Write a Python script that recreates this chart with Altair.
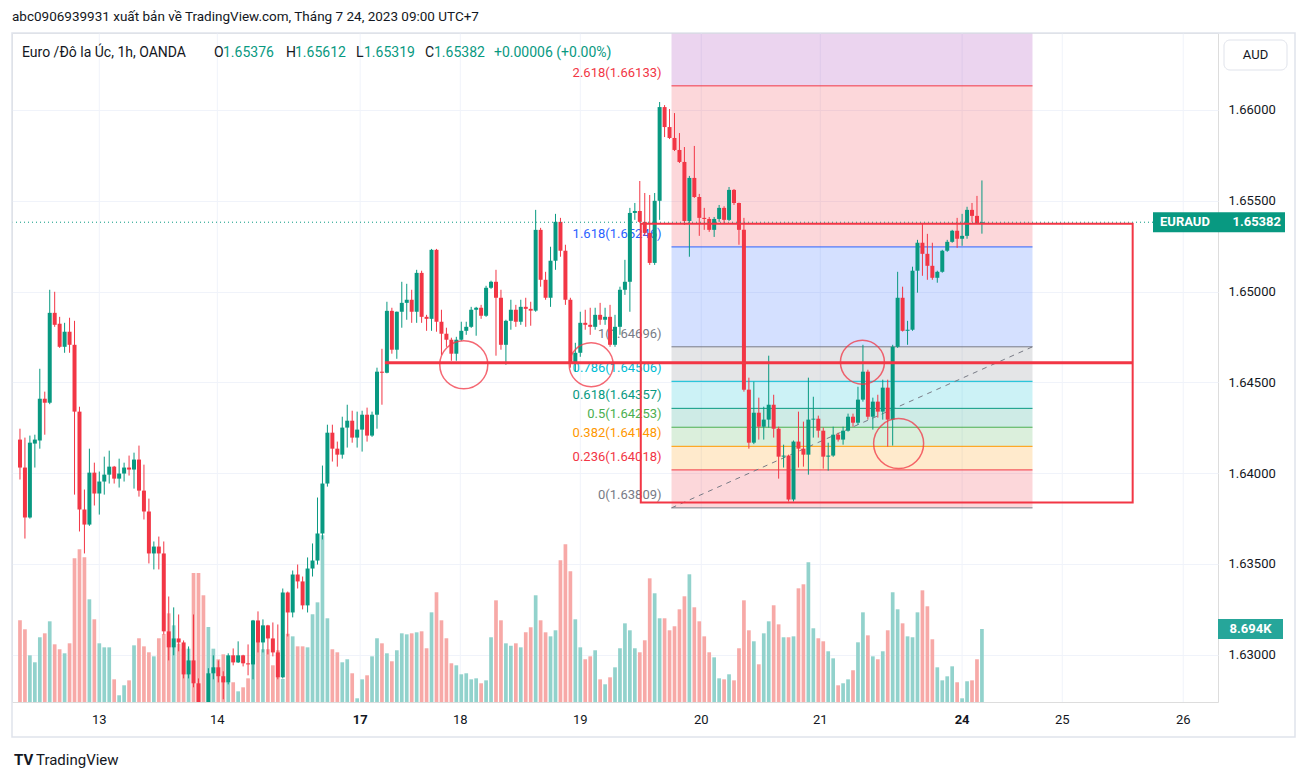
import altair as alt
import pandas as pd

# ---------------- data (EUR/AUD 1h, OANDA) ----------------
opens = [
    1.64185, 1.64031, 1.63756, 1.64163, 1.64180, 1.64410, 1.64388, 1.64883, 1.64823, 1.64696,
    1.64779, 1.64707, 1.64339, 1.63800, 1.63717, 1.64003, 1.63888, 1.63954, 1.63992, 1.64036,
    1.63970, 1.63998, 1.64031, 1.64020, 1.64075, 1.63904, 1.63789, 1.63558, 1.63596, 1.63558,
    1.63129, 1.63041, 1.63090, 1.63068, 1.62892, 1.62969, 1.62843, 1.62733, 1.62712, 1.62898,
    1.62931, 1.62882, 1.62848, 1.62997, 1.62958, 1.62997, 1.62953, 1.62947, 1.63189, 1.63068,
    1.63162, 1.63090, 1.63013, 1.62876, 1.63343, 1.63233, 1.63442, 1.63404, 1.63272, 1.63475,
    1.63519, 1.63668, 1.63943, 1.64223, 1.64135, 1.64102, 1.64251, 1.64289, 1.64196, 1.64240,
    1.64322, 1.64207, 1.64322, 1.64559, 1.64553, 1.64894, 1.64680, 1.64889, 1.64938, 1.64955,
    1.64889, 1.65103, 1.64861, 1.64850, 1.65230, 1.64834, 1.64768, 1.64735, 1.64658, 1.64735,
    1.64784, 1.64806, 1.64900, 1.64911, 1.64867, 1.65021, 1.65054, 1.64966, 1.64707, 1.64839,
    1.64900, 1.64834, 1.64916, 1.64905, 1.64895, 1.65340, 1.65065, 1.64966, 1.65170, 1.65384,
    1.65225, 1.64955, 1.64608, 1.64663, 1.64828, 1.64817, 1.64806, 1.64872, 1.64845, 1.64861,
    1.64707, 1.64806, 1.65010, 1.65054, 1.65433, 1.65444, 1.65384, 1.65323, 1.65158, 1.65500,
    1.66016, 1.65906, 1.65846, 1.65780, 1.65714, 1.65389, 1.65626, 1.65521, 1.65406, 1.65400,
    1.65340, 1.65400, 1.65461, 1.65395, 1.65560, 1.65488, 1.65340, 1.64460, 1.64168, 1.64333,
    1.64256, 1.64295, 1.64377, 1.64245, 1.64091, 1.64097, 1.63855, 1.64174, 1.64135, 1.64102,
    1.64295, 1.64300, 1.64234, 1.64091, 1.64097, 1.64212, 1.64185, 1.64234, 1.64311, 1.64278,
    1.64405, 1.64559, 1.64311, 1.64394, 1.64339, 1.64471, 1.64295, 1.64696, 1.64966, 1.64784,
    1.64790, 1.65115, 1.65269, 1.65208, 1.65142, 1.65076, 1.65109, 1.65225, 1.65274, 1.65335,
    1.65291, 1.65307, 1.65450, 1.65417, 1.65376,
]
highs = [
    1.64245, 1.64196, 1.64207, 1.64212, 1.64575, 1.64449, 1.65010, 1.64999, 1.64861, 1.64828,
    1.64856, 1.64839, 1.64366, 1.63910, 1.64135, 1.64058, 1.64009, 1.64091, 1.64124, 1.64040,
    1.64080, 1.64058, 1.64097, 1.64113, 1.64152, 1.64047, 1.63860, 1.63624, 1.63651, 1.63624,
    1.63321, 1.63261, 1.63222, 1.63079, 1.63046, 1.63222, 1.62870, 1.62738, 1.62926, 1.62997,
    1.62969, 1.62909, 1.63008, 1.63035, 1.63074, 1.63000, 1.63057, 1.63192, 1.63239, 1.63195,
    1.63165, 1.63178, 1.63167, 1.63365, 1.63348, 1.63464, 1.63497, 1.63431, 1.63536, 1.63613,
    1.63866, 1.64042, 1.64267, 1.64267, 1.64174, 1.64311, 1.64377, 1.64344, 1.64339, 1.64344,
    1.64361, 1.64339, 1.64581, 1.64685, 1.64944, 1.64911, 1.64890, 1.65054, 1.65043, 1.65010,
    1.65120, 1.65115, 1.64872, 1.65235, 1.65235, 1.64900, 1.64801, 1.64746, 1.64751, 1.64834,
    1.64834, 1.64916, 1.64916, 1.64927, 1.65032, 1.65060, 1.65120, 1.65010, 1.64845, 1.64955,
    1.64927, 1.64955, 1.64966, 1.64944, 1.65450, 1.65351, 1.65109, 1.65247, 1.65428, 1.65406,
    1.65258, 1.64966, 1.64718, 1.64889, 1.64900, 1.64911, 1.64911, 1.64938, 1.64911, 1.64927,
    1.64872, 1.65027, 1.65175, 1.65461, 1.65488, 1.65609, 1.65543, 1.65532, 1.65543, 1.66044,
    1.66027, 1.66005, 1.65983, 1.65873, 1.65796, 1.65637, 1.65802, 1.65538, 1.65461, 1.65411,
    1.65411, 1.65477, 1.65470, 1.65576, 1.65565, 1.65490, 1.65406, 1.64526, 1.64504, 1.64416,
    1.64366, 1.64647, 1.64432, 1.64256, 1.64157, 1.64102, 1.64180, 1.64339, 1.64284, 1.64526,
    1.64421, 1.64317, 1.64251, 1.64168, 1.64256, 1.64223, 1.64256, 1.64328, 1.64328, 1.64476,
    1.64707, 1.64570, 1.64416, 1.64432, 1.64515, 1.64515, 1.64707, 1.65109, 1.65027, 1.64839,
    1.65137, 1.65285, 1.65378, 1.65318, 1.65269, 1.65115, 1.65230, 1.65285, 1.65340, 1.65406,
    1.65428, 1.65467, 1.65488, 1.65527, 1.65612,
]
lows = [
    1.63965, 1.63640, 1.63750, 1.64031, 1.64135, 1.64212, 1.64380, 1.64806, 1.64690, 1.64663,
    1.64663, 1.63882, 1.63679, 1.63558, 1.63710, 1.63822, 1.63772, 1.63882, 1.63943, 1.63943,
    1.63921, 1.63954, 1.63987, 1.63915, 1.63871, 1.63745, 1.63503, 1.63470, 1.63470, 1.63112,
    1.62969, 1.62997, 1.63019, 1.62870, 1.62870, 1.62821, 1.62722, 1.62680, 1.62705, 1.62865,
    1.62848, 1.62755, 1.62837, 1.62942, 1.62955, 1.62936, 1.62887, 1.62865, 1.63013, 1.63013,
    1.63002, 1.62991, 1.62865, 1.62870, 1.63101, 1.63206, 1.63365, 1.63250, 1.63233, 1.63431,
    1.63497, 1.63635, 1.63926, 1.64064, 1.64036, 1.64080, 1.64141, 1.64168, 1.64141, 1.64119,
    1.64174, 1.64200, 1.64245, 1.64377, 1.64550, 1.64658, 1.64630, 1.64801, 1.64845, 1.64828,
    1.64828, 1.64828, 1.64784, 1.64784, 1.64779, 1.64652, 1.64696, 1.64619, 1.64619, 1.64729,
    1.64762, 1.64800, 1.64757, 1.64850, 1.64861, 1.65015, 1.64647, 1.64680, 1.64597, 1.64790,
    1.64806, 1.64817, 1.64806, 1.64812, 1.64889, 1.65027, 1.64955, 1.64916, 1.65120, 1.65192,
    1.64927, 1.64581, 1.64559, 1.64641, 1.64790, 1.64762, 1.64790, 1.64817, 1.64817, 1.64696,
    1.64696, 1.64762, 1.64982, 1.64889, 1.65395, 1.65378, 1.65307, 1.65147, 1.65147, 1.65395,
    1.65851, 1.65840, 1.65774, 1.65708, 1.65367, 1.65192, 1.65516, 1.65307, 1.65340, 1.65329,
    1.65301, 1.65384, 1.65373, 1.65389, 1.65477, 1.65258, 1.64449, 1.64135, 1.64160, 1.64185,
    1.64185, 1.64251, 1.64196, 1.63970, 1.64031, 1.63844, 1.63844, 1.64031, 1.64036, 1.63992,
    1.64196, 1.64196, 1.64025, 1.64014, 1.64090, 1.64174, 1.64157, 1.64229, 1.64256, 1.64267,
    1.64394, 1.64295, 1.64240, 1.64306, 1.64295, 1.64146, 1.64152, 1.64690, 1.64780, 1.64707,
    1.64784, 1.64994, 1.65087, 1.65065, 1.65065, 1.65049, 1.65104, 1.65219, 1.65269, 1.65241,
    1.65252, 1.65291, 1.65384, 1.65373, 1.65319,
]
closes = [
    1.64031, 1.63756, 1.64168, 1.64185, 1.64410, 1.64388, 1.64883, 1.64817, 1.64696, 1.64779,
    1.64707, 1.64339, 1.63800, 1.63717, 1.64003, 1.63888, 1.63954, 1.63992, 1.64036, 1.63970,
    1.63998, 1.64031, 1.64020, 1.64075, 1.63904, 1.63789, 1.63558, 1.63596, 1.63558, 1.63129,
    1.63041, 1.63090, 1.63068, 1.62892, 1.62969, 1.62843, 1.62733, 1.62712, 1.62898, 1.62931,
    1.62882, 1.62848, 1.62997, 1.62958, 1.62997, 1.62953, 1.62947, 1.63189, 1.63068, 1.63162,
    1.63090, 1.63013, 1.62876, 1.63343, 1.63233, 1.63442, 1.63404, 1.63272, 1.63475, 1.63519,
    1.63668, 1.63943, 1.64223, 1.64135, 1.64102, 1.64251, 1.64289, 1.64196, 1.64240, 1.64322,
    1.64207, 1.64322, 1.64559, 1.64553, 1.64894, 1.64680, 1.64889, 1.64938, 1.64955, 1.64889,
    1.65103, 1.64861, 1.64850, 1.65230, 1.64834, 1.64768, 1.64735, 1.64658, 1.64735, 1.64784,
    1.64806, 1.64900, 1.64911, 1.64867, 1.65021, 1.65054, 1.64966, 1.64707, 1.64839, 1.64900,
    1.64834, 1.64916, 1.64905, 1.64895, 1.65340, 1.65065, 1.64966, 1.65170, 1.65384, 1.65225,
    1.64955, 1.64608, 1.64663, 1.64828, 1.64817, 1.64806, 1.64872, 1.64845, 1.64861, 1.64707,
    1.64806, 1.65010, 1.65054, 1.65433, 1.65444, 1.65384, 1.65323, 1.65158, 1.65500, 1.66016,
    1.65906, 1.65846, 1.65780, 1.65714, 1.65389, 1.65626, 1.65521, 1.65406, 1.65400, 1.65340,
    1.65400, 1.65461, 1.65395, 1.65560, 1.65488, 1.65340, 1.64460, 1.64168, 1.64333, 1.64256,
    1.64295, 1.64377, 1.64245, 1.64091, 1.64097, 1.63855, 1.64174, 1.64135, 1.64102, 1.64295,
    1.64300, 1.64234, 1.64091, 1.64097, 1.64212, 1.64185, 1.64234, 1.64311, 1.64278, 1.64405,
    1.64559, 1.64311, 1.64394, 1.64339, 1.64471, 1.64295, 1.64696, 1.64966, 1.64784, 1.64790,
    1.65115, 1.65269, 1.65208, 1.65142, 1.65076, 1.65109, 1.65225, 1.65274, 1.65335, 1.65291,
    1.65307, 1.65450, 1.65417, 1.65376, 1.65382,
]
volume_k = [
    9.73, 8.66, 5.56, 4.73, 7.71, 8.18, 9.61, 6.87, 6.28, 5.80,
    6.99, 17.11, 18.19, 17.23, 12.23, 9.85, 6.99, 6.51, 6.51, 2.70,
    0.80, 1.99, 2.58, 6.75, 7.59, 6.63, 5.92, 5.44, 7.59, 8.10,
    10.56, 9.13, 6.94, 6.35, 6.35, 15.36, 15.36, 12.71, 8.93, 6.35,
    5.09, 5.68, 2.35, 2.35, 1.27, 1.75, 2.82, 5.75, 8.13, 6.28,
    6.28, 4.37, 6.16, 2.74, 8.13, 7.82, 6.63, 6.63, 6.51, 10.45,
    11.87, 19.85, 9.97, 6.28, 5.92, 4.73, 5.09, 3.42, 0.44, 2.70,
    3.18, 5.44, 7.59, 6.99, 5.80, 4.85, 6.16, 8.18, 8.06, 8.18,
    8.30, 8.42, 6.40, 10.68, 13.07, 9.73, 7.59, 4.61, 4.37, 3.30,
    3.42, 2.70, 2.82, 2.23, 2.58, 7.71, 12.11, 9.73, 6.99, 6.70,
    6.99, 6.51, 8.30, 8.90, 12.71, 9.73, 8.30, 7.82, 8.54, 16.88,
    18.78, 15.57, 9.85, 6.51, 5.09, 5.44, 6.16, 2.70, 2.11, 2.94,
    4.13, 6.40, 9.37, 8.54, 6.40, 5.92, 7.35, 14.73, 12.95, 9.97,
    9.97, 8.54, 9.02, 11.04, 12.59, 15.21, 11.28, 9.61, 7.82, 5.92,
    5.32, 2.82, 2.70, 3.30, 2.58, 6.40, 12.11, 8.54, 7.23, 4.49,
    8.18, 9.61, 11.52, 9.25, 7.71, 7.71, 7.82, 13.54, 14.02, 16.64,
    8.78, 7.59, 7.23, 6.04, 5.20, 1.99, 2.23, 2.70, 3.78, 7.11,
    10.68, 7.94, 5.44, 5.09, 6.04, 8.54, 13.07, 11.04, 9.37, 7.82,
    7.71, 10.68, 13.30, 11.40, 7.47, 4.13, 2.58, 3.06, 4.25, 2.35,
    0.44, 2.47, 2.58, 5.09, 8.694,
]

day_labels = ["13", "14", "17", "18", "19", "20", "21", "24", "25", "26"]
day_pos = [16, 39.8, 68.6, 88.8, 113, 137.4, 161.4, 190, 210.2, 234.6]
day_bold = [False, False, True, False, False, False, False, True, False, False]

price_ticks = [1.630, 1.635, 1.640, 1.645, 1.650, 1.655, 1.660]

fib_levels = ["0", "0.236", "0.382", "0.5", "0.618", "0.786", "1", "1.618", "2.618", "3.618"]
fib_prices = [1.63809, 1.64018, 1.64148, 1.64253, 1.64357, 1.64506, 1.64696, 1.65246, 1.66133, 1.67018]
fib_colors = ["#787b86", "#f23645", "#ff9800", "#4caf50", "#089981", "#00bcd4",
              "#787b86", "#2962ff", "#f23645", "#9c27b0"]
fib_bars = [131.4, 204.2]

rect_bars = [125.2, 224.4]
rect_prices = [1.65373, 1.63838]
hline_bars = [73.6, 224.4]
hline_price = 1.64608
circle_bars = [89.5, 115.2, 169.9, 177.2]
circle_prices = [1.64597, 1.64597, 1.64611, 1.64163]
circle_diam = [48, 44, 44, 50]

symbol_name = "Euro /Đô la Úc, 1h, OANDA"
publish_line = "abc0906939931 xuất bản về TradingView.com, Tháng 7 24, 2023 09:00 UTC+7"
change_text = "+0.00006 (+0.00%)"

# ---------------- style ----------------
TEAL = "#089981"
RED = "#f23645"
VTEAL = "#92d2cc"
VRED = "#f7a9a7"
TXT = "#131722"
FONT = "Roboto"
W, H = 1206, 669

XS = alt.Scale(domain=[-0.6, 240.6], nice=False, zero=False)
PS = alt.Scale(domain=[1.62740, 1.66424], nice=False, zero=False)
VS = alt.Scale(domain=[0, 79.68], nice=False, zero=True)
PAXIS = alt.Axis(orient="right", values=price_ticks, format=".5f", labelFont=FONT,
                 labelFontSize=13, labelColor=TXT, labelPadding=10, grid=True,
                 gridColor="#f0f3fa", gridWidth=1, domain=False, ticks=False, title=None)


def X(f):
    return alt.X(f, type="quantitative", scale=XS, axis=None)


def Y(f):
    return alt.Y(f, type="quantitative", scale=PS, axis=PAXIS)


df = pd.DataFrame({"bar": list(range(len(opens))), "open": opens, "high": highs,
                   "low": lows, "close": closes, "vol": volume_k})
up = [c >= o for o, c in zip(opens, closes)]
df["ccol"] = [TEAL if u else RED for u in up]
df["vcol"] = [VTEAL if u else VRED for u in up]

days = pd.DataFrame({"pos": day_pos, "label": day_labels, "bold": day_bold})

bands = pd.DataFrame({
    "x1": [fib_bars[0]] * 9, "x2": [fib_bars[1]] * 9,
    "lo": fib_prices[:-1], "hi": fib_prices[1:], "color": fib_colors[1:],
})
flines = pd.DataFrame({
    "x1": [fib_bars[0]] * 9, "x2": [fib_bars[1]] * 9,
    "p": fib_prices[:-1], "color": fib_colors[:-1],
    "label": [f"{lv}({p:.5f})" for lv, p in zip(fib_levels[:-1], fib_prices[:-1])],
})
trend = pd.DataFrame({"bar": fib_bars, "p": [fib_prices[0], fib_prices[6]]})

# ---------------- volume group ----------------
vgrid = alt.Chart(days).mark_rule(color="#f0f3fa", strokeWidth=1).encode(
    x=X("pos"), y=alt.value(0), y2=alt.value(H))
vbars = alt.Chart(df).mark_bar(size=3.7, clip=True).encode(
    x=X("bar"),
    y=alt.Y("vol:Q", scale=VS, axis=None),
    color=alt.Color("vcol:N", scale=None),
)
vlab_df = pd.DataFrame({"v": [volume_k[-1]], "t": [f"{volume_k[-1]:.3f}K"]})
vlab_bg = alt.Chart(vlab_df).mark_rule(color="#26a69a", strokeWidth=20, clip=False).encode(
    x=alt.value(1206), x2=alt.value(1271), y=alt.Y("v:Q", scale=VS, axis=None))
vlab_tx = alt.Chart(vlab_df).mark_text(color="white", fontSize=13, fontWeight="bold", font=FONT,
                                       baseline="middle", align="center", clip=False).encode(
    x=alt.value(1238.5), y=alt.Y("v:Q", scale=VS, axis=None), text="t:N")
vol_group = alt.layer(vgrid, vbars, vlab_bg, vlab_tx)

# ---------------- price group ----------------
fib_band = alt.Chart(bands).mark_rect(opacity=0.2, clip=True).encode(
    x=X("x1"), x2="x2", y=Y("lo"), y2="hi", color=alt.Color("color:N", scale=None))
fib_line = alt.Chart(flines).mark_rule(strokeWidth=1, clip=True).encode(
    x=X("x1"), x2="x2", y=Y("p"), color=alt.Color("color:N", scale=None))
fib_text = alt.Chart(flines).mark_text(align="right", baseline="middle", dx=-10, dy=-13,
                                       fontSize=13, font=FONT).encode(
    x=X("x1"), y=Y("p"), text="label:N", color=alt.Color("color:N", scale=None))
trend_line = alt.Chart(trend).mark_line(color="#787b86", strokeWidth=1, strokeDash=[5, 5]).encode(
    x=X("bar"), y=Y("p"))

wicks = alt.Chart(df).mark_rule(strokeWidth=1, clip=True).encode(
    x=X("bar"), y=Y("low"), y2="high", color=alt.Color("ccol:N", scale=None))
bodies = alt.Chart(df).mark_bar(size=4, clip=True).encode(
    x=X("bar"), y=Y("open"), y2="close", color=alt.Color("ccol:N", scale=None))

last_df = pd.DataFrame({"p": [closes[-1]], "t1": ["EURAUD"], "t2": [f"{closes[-1]:.5f}"]})
price_line = alt.Chart(last_df).mark_rule(color=TEAL, strokeWidth=1, strokeDash=[1, 3]).encode(
    x=alt.value(0), x2=alt.value(1141), y=Y("p"))

rect_df = pd.DataFrame({"x1": [rect_bars[0]], "x2": [rect_bars[1]],
                        "y1": [rect_prices[0]], "y2": [rect_prices[1]]})
red_rect = alt.Chart(rect_df).mark_rect(fill="transparent", stroke=RED, strokeWidth=2).encode(
    x=X("x1"), x2="x2", y=Y("y1"), y2="y2")
hl_df = pd.DataFrame({"x1": [hline_bars[0]], "x2": [hline_bars[1]], "p": [hline_price]})
red_hline = alt.Chart(hl_df).mark_rule(color=RED, strokeWidth=3).encode(
    x=X("x1"), x2="x2", y=Y("p"))
circ_df = pd.DataFrame({"bar": circle_bars, "p": circle_prices,
                        "s": [d * d for d in circle_diam]})
circles = alt.Chart(circ_df).mark_point(shape="circle", filled=False, color=RED,
                                        strokeWidth=1.5, opacity=0.75).encode(
    x=X("bar"), y=Y("p"), size=alt.Size("s:Q", scale=None))

eur_bg = alt.Chart(last_df).mark_rule(color=TEAL, strokeWidth=20, clip=False).encode(
    x=alt.value(1141), x2=alt.value(1273), y=Y("p"))
eur_t1 = alt.Chart(last_df).mark_text(color="white", fontSize=13, fontWeight="bold", font=FONT,
                                      align="left", baseline="middle").encode(
    x=alt.value(1148), y=Y("p"), text="t1:N")
eur_t2 = alt.Chart(last_df).mark_text(color="white", fontSize=13, fontWeight="bold", font=FONT,
                                      align="right", baseline="middle").encode(
    x=alt.value(1269), y=Y("p"), text="t2:N")

one = pd.DataFrame({"a": [0]})
aud_box = alt.Chart(one).mark_rect(fill="white", stroke="#e0e3eb", strokeWidth=1,
                                   cornerRadius=6).encode(
    x=alt.value(1212), x2=alt.value(1275), y=alt.value(7), y2=alt.value(37))
aud_txt = alt.Chart(one).mark_text(text="AUD", fontSize=13, font=FONT, color=TXT,
                                   align="center", baseline="middle").encode(
    x=alt.value(1243.5), y=alt.value(22))

frame = alt.Chart(one).mark_rect(fill="transparent", stroke="#e0e3eb", strokeWidth=1.5).encode(
    x=alt.value(0), x2=alt.value(1283), y=alt.value(0), y2=alt.value(704))

day_norm = alt.Chart(days).transform_filter("!datum.bold").mark_text(
    fontSize=13, font=FONT, color=TXT, baseline="middle").encode(
    x=X("pos"), y=alt.value(H + 18), text="label:N")
day_b = alt.Chart(days).transform_filter("datum.bold").mark_text(
    fontSize=13, font=FONT, color=TXT, fontWeight="bold", baseline="middle").encode(
    x=X("pos"), y=alt.value(H + 18), text="label:N")

pub = alt.Chart(one).mark_text(text=publish_line, fontSize=13.5, font=FONT, color=TXT,
                               align="left", baseline="middle").encode(
    x=alt.value(0), y=alt.value(-16))

hdr_texts = [symbol_name, "O", f"{opens[-1]:.5f}", "H", f"{highs[-1]:.5f}",
             "L", f"{lows[-1]:.5f}", "C", f"{closes[-1]:.5f}", change_text]
hdr_x = [10, 202, 211, 274, 283, 344, 352, 413, 422, 482]
hdr_col = [TXT, TXT, TEAL, TXT, TEAL, TXT, TEAL, TXT, TEAL, TEAL]
hdr_df = pd.DataFrame({"t": hdr_texts, "px": hdr_x, "c": hdr_col})
header = alt.Chart(hdr_df).mark_text(fontSize=14, font=FONT, align="left", baseline="middle").encode(
    x=alt.X("px:Q", scale=None), y=alt.value(20), text="t:N", color=alt.Color("c:N", scale=None))

logo_a = alt.Chart(one).mark_text(text="TV", fontSize=15, font=FONT, fontWeight="bold",
                                  color=TXT, align="left", baseline="middle").encode(
    x=alt.value(2), y=alt.value(727))
logo_b = alt.Chart(one).mark_text(text="TradingView", fontSize=15, font=FONT, color=TXT,
                                  align="left", baseline="middle").encode(
    x=alt.value(24), y=alt.value(727))

price_group = alt.layer(
    fib_band, fib_line, fib_text, trend_line,
    wicks, bodies, price_line,
    red_rect, red_hline, circles,
    eur_bg, eur_t1, eur_t2, aud_box, aud_txt,
    frame, day_norm, day_b, pub, header, logo_a, logo_b,
)

chart = alt.layer(vol_group, price_group).resolve_scale(y="independent").properties(
    width=W, height=H,
    padding={"left": 4, "top": 25, "right": 79, "bottom": 70},
    autosize=alt.AutoSizeParams(type="none"),
).configure_view(stroke=None).configure(font=FONT)

chart.save("out.html", embed_options={"renderer": "svg", "actions": False})
